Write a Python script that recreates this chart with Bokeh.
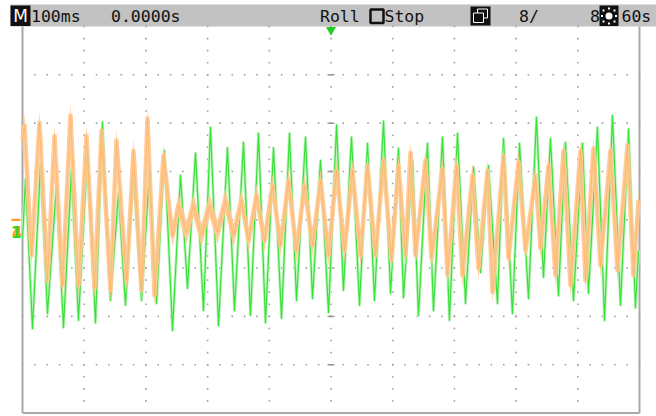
import numpy as np
from bokeh.plotting import figure
from bokeh.models import Range1d
from bokeh.embed import file_html
from bokeh.resources import INLINE
from bokeh.core.properties import value

# ---------------- data read from the capture ----------------
# time in ms (100 ms/div, 0..1000 ms across the screen), level in divisions (-4..4)
green_time_ms = [0, 4.9, 16.2, 29.2, 40.5, 55.1, 66.4, 79.4, 90.7, 105.3, 118.3, 129.6, 142.6,
                 155.6, 166.9, 179.9, 192.9, 205.9, 217.2, 230.1, 243.1, 256.1, 267.4, 280.4,
                 293.3, 304.7, 317.7, 332.2, 343.6, 358.2, 369.5, 382.5, 393.8, 406.8, 419.8,
                 432.7, 444.1, 458.7, 470.0, 483.0, 496.0, 509.0, 520.2, 533.2, 546.2, 559.2,
                 570.5, 585.1, 596.5, 609.4, 617.5, 632.1, 641.8, 656.4, 666.1, 680.7, 692.0,
                 705.0, 718.0, 731.0, 742.3, 755.2, 769.8, 779.6, 794.1, 805.5, 820.1, 833.0,
                 844.4, 855.7, 868.7, 880.0, 893.0, 907.6, 917.3, 931.9, 943.3, 956.2, 969.2,
                 982.2, 993.5, 998.4]
green_level_div = [-0.40, 0.85, -2.25, 1.16, -1.94, 0.71, -2.23, 1.02, -2.08, 1.43, -2.13, 2.02,
                   -1.67, 0.55, -1.77, 0.98, -1.67, 1.02, -1.73, 1.43, -2.29, 0.92, -1.42, 1.38,
                   -1.88, 1.91, -2.19, 1.49, -1.88, 1.60, -1.98, 1.79, -2.13, 1.49, -2.04, 1.79,
                   -1.67, 1.71, -1.63, 1.23, -1.92, 1.96, -1.46, 1.71, -1.77, 1.58, -1.67, 2.04,
                   -1.52, 1.48, -1.61, 1.23, -1.98, 1.58, -1.88, 1.71, -2.08, 1.79, -1.73, 1.09,
                   -1.09, 1.12, -1.73, 1.68, -1.94, 1.58, -1.63, 2.12, -1.19, 1.68, -1.57, 1.60,
                   -1.67, 1.58, -1.52, 1.91, -2.08, 2.16, -1.77, 1.88, -1.82, -0.64]

orange_time_ms = [0, 3.2, 14.6, 27.6, 40.5, 51.9, 64.8, 77.8, 90.8, 103.7, 116.7, 128.0, 142.6,
                  152.3, 168.6, 179.9, 192.9, 202.6, 213.9, 228.5, 243.1, 252.8, 265.8, 277.1,
                  290.1, 303.1, 316.0, 329.0, 342.0, 354.9, 366.3, 379.2, 392.2, 405.2, 418.1,
                  431.1, 444.1, 457.0, 470.0, 483.0, 495.9, 508.9, 521.9, 534.8, 547.8, 559.1,
                  572.1, 585.1, 598.0, 609.4, 620.7, 628.8, 636.9, 653.1, 662.9, 680.7, 688.8,
                  703.4, 713.1, 729.3, 739.0, 753.6, 761.7, 779.6, 787.7, 803.9, 815.2, 831.4,
                  839.5, 852.5, 863.8, 876.8, 888.1, 904.3, 912.4, 925.4, 936.8, 952.9, 964.3,
                  980.5, 990.2, 998.4]
orange_level_div = [1.64, 1.95, -0.74, 2.01, -1.26, 1.74, -1.36, 2.16, -1.36, 1.74, -1.42, 1.84,
                    -1.46, 1.64, -1.26, 1.43, -1.46, 2.10, -1.57, 1.33, -0.33, 0.30, -0.26, 0.30,
                    -0.33, 0.30, -0.26, 0.40, -0.33, 0.40, -0.43, 0.50, -0.43, 0.71, -0.53, 0.81,
                    -0.64, 0.71, -0.53, 0.81, -0.74, 1.02, -0.64, 1.02, -0.74, 1.12, -0.74, 1.23,
                    -0.84, 1.12, -0.74, 1.39, -0.74, 1.23, -0.80, 1.06, -1.15, 1.12, -1.15, 0.92,
                    -1.01, 1.02, -1.50, 1.33, -0.80, 1.19, -0.64, 0.92, -0.59, 1.12, -1.15, 1.43,
                    -1.36, 1.43, -1.26, 1.48, -0.95, 1.43, -1.05, 1.54, -1.15, 0.40]
orange_noise_div = 0.24    # half-height of the noise band on the orange channel

# header texts
txt_timebase = "100ms"
txt_position = "0.0000s"
txt_mode = "Roll"
txt_state = "Stop"
txt_count = "8/"
txt_total = "8"
txt_extra = "60s"

# ---------------- layout helpers (page pixels -> data) ----------------
MS_PER_DIV = 100.0
PX_X = 617.0 / 1000.0      # page px per ms
PX_Y = 386.5 / 8.0         # page px per division
W, H = 656, 416


def X(px):
    return (px - 22.0) / PX_X


def Y(py):
    return 4.0 + (26.0 - py) / PX_Y


p = figure(width=W, height=H, x_range=Range1d(X(0), X(W)), y_range=Range1d(Y(H), Y(0)),
           output_backend="svg", toolbar_location=None, min_border=0)
p.axis.visible = False
p.grid.visible = False
p.outline_line_color = None
p.background_fill_color = "white"
p.border_fill_color = "white"

# header bar
p.quad(left=X(10), right=X(W), top=Y(4), bottom=Y(26), fill_color="#c2c2c2", line_color=None)

# graticule dots
gx, gy = [], []
for xd in range(1, 10):
    for k in range(0, 33):
        gx.append(xd * MS_PER_DIV)
        gy.append(-4 + k * 0.25)
for yd in range(-3, 4):
    for k in range(0, 51):
        gx.append(k * MS_PER_DIV / 5)
        gy.append(yd)
p.scatter(gx, gy, marker="square", size=1.6, fill_color="#a0a0a0", line_color=None)

# centre-line tick marks
hx0 = [500 - 3.5 / PX_X] * 7
hx1 = [500 + 3.5 / PX_X] * 7
hy = list(range(-3, 4))
p.segment(x0=hx0, y0=hy, x1=hx1, y1=hy, line_color="#999999", line_width=1.5)
vx = [d * MS_PER_DIV for d in range(1, 10)]
p.segment(x0=vx, y0=[-3.5 / PX_Y] * 9, x1=vx, y1=[3.5 / PX_Y] * 9, line_color="#999999", line_width=1.2)

# frame
p.line([0, 0], [4, -4], line_color="#a8a8a8", line_width=2)
p.line([1000, 1000], [4, -4], line_color="#a8a8a8", line_width=2)
p.line([0, 1000], [-4, -4], line_color="#a8a8a8", line_width=2)

# traces
p.line(green_time_ms, green_level_div, line_color="#bff6bf", line_width=3, line_join="round")
p.line(green_time_ms, green_level_div, line_color="#3ae03a", line_width=1.2, line_join="round")

ot = np.array(orange_time_ms)
ol = np.array(orange_level_div)
p.varea(x=ot, y1=ol - orange_noise_div, y2=ol + orange_noise_div, fill_color="#ffc890", fill_alpha=0.85)
p.line(orange_time_ms, orange_level_div, line_color="#ffc890", line_width=4.5, line_join="round",
       line_alpha=0.9)
p.line(orange_time_ms, orange_level_div, line_color="#ff9d3c", line_width=1, line_join="round",
       line_alpha=0.35)

# trigger marker & channel markers
p.scatter([500], [Y(29.5)], marker="inverted_triangle", size=10, fill_color="#22cc22", line_color=None)
p.quad(left=X(11), right=X(20), top=Y(218.3), bottom=Y(220.5), fill_color="#ff9a2a", line_color=None)
p.text([X(11.5)], [Y(231)], text=["4"], text_color="#ff9a2a", text_font=value("DejaVu Sans"),
       text_font_size=value("15px"), text_font_style="bold", text_baseline="middle", text_align="left")
p.text([X(10.5)], [Y(231)], text=["1"], text_color="#22dd22", text_font=value("DejaVu Sans"),
       text_font_size=value("15px"), text_font_style="bold", text_baseline="middle", text_align="left")

# header icons
p.quad(left=X(10), right=X(30), top=Y(5), bottom=Y(25.5), fill_color="#111111", line_color=None)
p.text([X(20)], [Y(15.5)], text=["M"], text_color="white", text_font=value("DejaVu Sans"),
       text_font_size=value("17px"), text_baseline="middle", text_align="center")
p.quad(left=X(370), right=X(383), top=Y(9), bottom=Y(22.5), fill_color=None, line_color="#111111",
       line_width=2.5)
p.quad(left=X(470), right=X(490), top=Y(6), bottom=Y(25), fill_color="#111111", line_color=None)
p.quad(left=X(477), right=X(487), top=Y(8.5), bottom=Y(17.5), fill_color=None, line_color="white", line_width=1)
p.quad(left=X(473), right=X(483), top=Y(12.5), bottom=Y(22), fill_color="#111111", line_color="white", line_width=1)
p.quad(left=X(599), right=X(618), top=Y(5), bottom=Y(25.5), fill_color="#111111", line_color=None)
p.scatter([X(608.5)], [Y(15.5)], marker="circle", size=7, fill_color="white", line_color=None)
sx = [X(601.5), X(615.5), X(608.5), X(608.5), X(603), X(614), X(603), X(614)]
sy = [Y(15.5), Y(15.5), Y(8), Y(23), Y(10), Y(10), Y(21), Y(21)]
p.scatter(sx, sy, marker="square", size=2, fill_color="white", line_color=None)

# header texts
hdr = dict(text_color="#111111", text_font=value("DejaVu Sans Mono"), text_font_size=value("16.5px"),
           text_baseline="middle", text_align="left")
p.text([X(30.5), X(110.5), X(319.5), X(384), X(518.5), X(589.5), X(621)], [Y(15.5)] * 7,
       text=[txt_timebase, txt_position, txt_mode, txt_state, txt_count, txt_total, txt_extra], **hdr)

open("out.html", "w").write(file_html(p, INLINE))
